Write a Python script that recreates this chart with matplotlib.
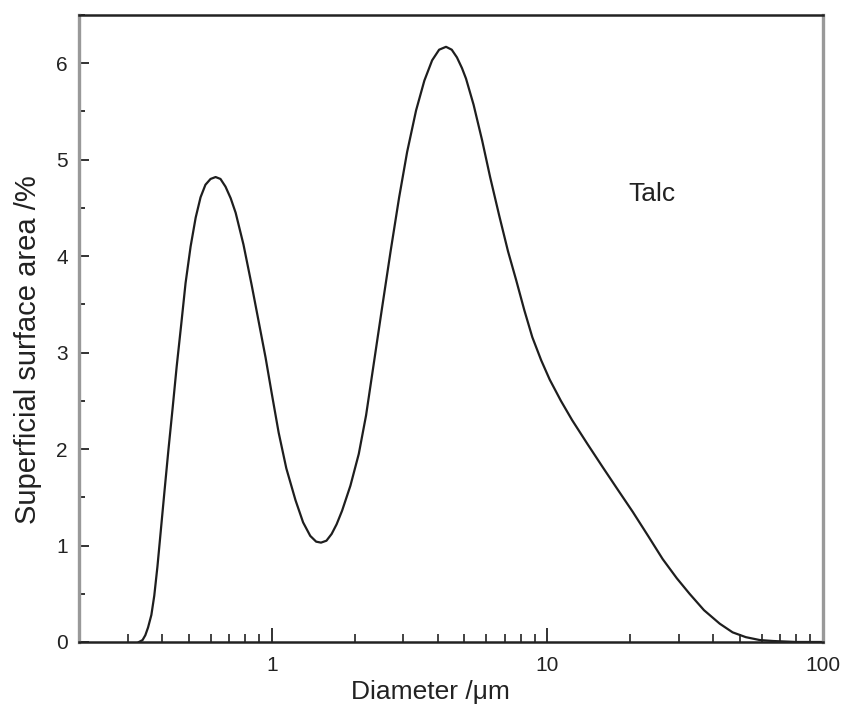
import matplotlib
matplotlib.use('Agg')
import matplotlib.pyplot as plt
from matplotlib.ticker import FixedLocator, NullFormatter, LogLocator

plt.rcParams['font.family'] = ['Liberation Sans', 'DejaVu Sans']

# particle size distribution
diameter = [0.330, 0.340, 0.348, 0.356, 0.366, 0.375, 0.385, 0.395, 0.408, 0.422,
            0.437, 0.452, 0.470, 0.487, 0.508, 0.530, 0.552, 0.575, 0.600, 0.626,
            0.652, 0.680, 0.710, 0.740, 0.790, 0.846, 0.900, 0.950, 1.00, 1.06,
            1.13, 1.22, 1.30, 1.38, 1.45, 1.51, 1.58, 1.65, 1.72, 1.80,
            1.93, 2.07, 2.20, 2.35, 2.51, 2.70, 2.90, 3.10, 3.34, 3.58,
            3.82, 4.05, 4.29, 4.50, 4.70, 4.90, 5.07, 5.40, 5.80, 6.20,
            6.69, 7.20, 7.71, 8.25, 8.82, 9.50, 10.2, 11.2, 12.3, 14.0,
            15.9, 18.0, 20.4, 23.2, 26.2, 29.5, 32.8, 37.0, 42.2, 47.0,
            52.5, 59.0, 66.0, 80.0, 100.0]
surface = [0.00, 0.02, 0.07, 0.15, 0.28, 0.48, 0.78, 1.12, 1.55, 1.99,
           2.42, 2.85, 3.30, 3.72, 4.10, 4.40, 4.61, 4.74, 4.80, 4.82,
           4.80, 4.72, 4.60, 4.45, 4.12, 3.70, 3.30, 2.95, 2.58, 2.17,
           1.80, 1.47, 1.24, 1.10, 1.04, 1.03, 1.05, 1.12, 1.22, 1.36,
           1.62, 1.95, 2.35, 2.90, 3.45, 4.05, 4.61, 5.08, 5.51, 5.82,
           6.03, 6.14, 6.17, 6.14, 6.06, 5.95, 5.84, 5.57, 5.20, 4.82,
           4.42, 4.05, 3.75, 3.44, 3.16, 2.92, 2.72, 2.50, 2.30, 2.05,
           1.81, 1.58, 1.35, 1.10, 0.86, 0.66, 0.50, 0.33, 0.19, 0.10,
           0.05, 0.02, 0.01, 0.00, 0.00]

xticks = [1, 10, 100]
xtick_labels = ['1', '10', '100']
yticks = [0, 1, 2, 3, 4, 5, 6]

fig = plt.figure(figsize=(8.46, 7.13), dpi=100)
ax = fig.add_axes([0.0934, 0.0996, 0.8794, 0.8794])

ax.plot(diameter, surface, color='#1e1e1e', lw=1.6, solid_joinstyle='round')

ax.set_xscale('log')
ax.set_xlim(0.2, 100)
ax.set_ylim(0, 6.5)

ax.xaxis.set_major_locator(FixedLocator(xticks))
ax.set_xticklabels(xtick_labels)
ax.xaxis.set_minor_locator(LogLocator(base=10, subs=range(2, 10)))
ax.xaxis.set_minor_formatter(NullFormatter())
ax.set_yticks(yticks)
ax.yaxis.set_minor_locator(FixedLocator([0.5 + i for i in range(7)]))

ax.tick_params(which='both', direction='in', labelsize=15, colors='#222', top=False, right=False)
ax.tick_params(axis='x', which='major', length=10, width=1.3, pad=10)
ax.tick_params(axis='x', which='minor', length=6, width=1.2)
ax.tick_params(axis='y', which='major', length=7, width=1.3, pad=8)
ax.tick_params(axis='y', which='minor', length=4, width=1.3)

for s in ['left', 'right']:
    ax.spines[s].set_color('#999999')
    ax.spines[s].set_linewidth(2.4)
for s in ['top', 'bottom']:
    ax.spines[s].set_color('#222222')
    ax.spines[s].set_linewidth(1.8)

ax.set_xlabel('Diameter /\u03bcm', fontsize=19, color='#222')
ax.xaxis.set_label_coords(0.472, -0.06)
ax.set_ylabel('Superficial surface area /%', fontsize=21, color='#222')
ax.yaxis.set_label_coords(-0.05, 0.467)

ax.text(0.7695, 0.714, 'Talc', transform=ax.transAxes, fontsize=19, color='#222',
        ha='center', va='center')

fig.savefig('out.png', dpi=100)
